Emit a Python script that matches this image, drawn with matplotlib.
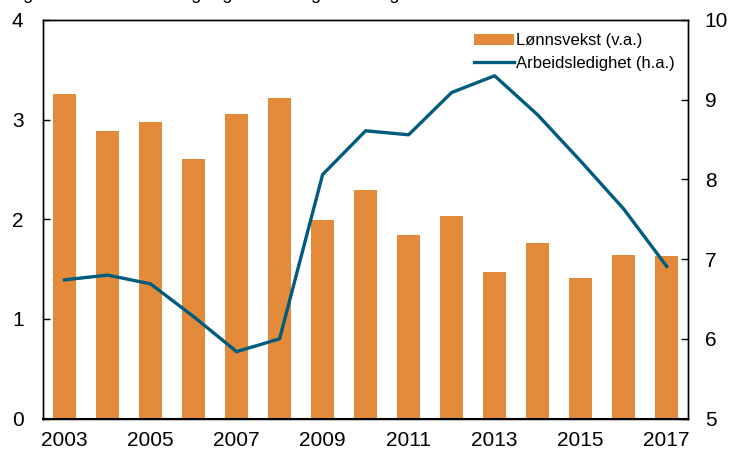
import matplotlib.pyplot as plt

plt.rcParams['font.family'] = ['Liberation Sans', 'DejaVu Sans']

years = list(range(2003, 2018))
wage_growth = [3.26, 2.89, 2.98, 2.60, 3.06, 3.22, 1.99, 2.29, 1.84, 2.03,
               1.47, 1.76, 1.41, 1.64, 1.63]
unemployment = [6.74, 6.80, 6.69, 6.28, 5.84, 6.00, 8.06, 8.61, 8.56, 9.09,
                9.30, 8.81, 8.23, 7.63, 6.91]
xtick_years = [2003, 2005, 2007, 2009, 2011, 2013, 2015, 2017]

bar_color = '#E38B3A'
line_color = '#005C7E'

fig = plt.figure(figsize=(7.29, 4.54), dpi=100)
ax = fig.add_axes([0.059, 0.078, 0.885, 0.878])
ax2 = ax.twinx()

bars = ax.bar(years, wage_growth, width=0.52, color=bar_color,
              label='Lønnsvekst (v.a.)', zorder=2)
line, = ax2.plot(years, unemployment, color=line_color, lw=2.4,
                 label='Arbeidsledighet (h.a.)', zorder=3)

ax.set_xlim(2002.5, 2017.5)
ax.set_ylim(0, 4)
ax2.set_ylim(5, 10)
ax.set_xticks(xtick_years)
ax.set_yticks([0, 1, 2, 3, 4])
ax2.set_yticks([5, 6, 7, 8, 9, 10])

for a in (ax, ax2):
    a.tick_params(direction='in', length=5, width=1, labelsize=15, pad=9)
    for s in a.spines.values():
        s.set_linewidth(1.0)
ax.tick_params(axis='y', pad=14)
ax2.tick_params(axis='y', pad=12)
ax.spines['bottom'].set_linewidth(1.5)

ax.legend([bars, line], ['Lønnsvekst (v.a.)', 'Arbeidsledighet (h.a.)'],
          loc='upper right', frameon=False, fontsize=12,
          handlelength=2.4, handletextpad=0.1, borderaxespad=0.4,
          labelspacing=0.45)

# top title line is cut off in the source image
fig.text(0.011, 1.012, 'Figur 3.5 Lønnsvekst og registrert ledighet i Norge',
         fontsize=13, va='center', ha='left')

fig.savefig('out.png', dpi=100)
